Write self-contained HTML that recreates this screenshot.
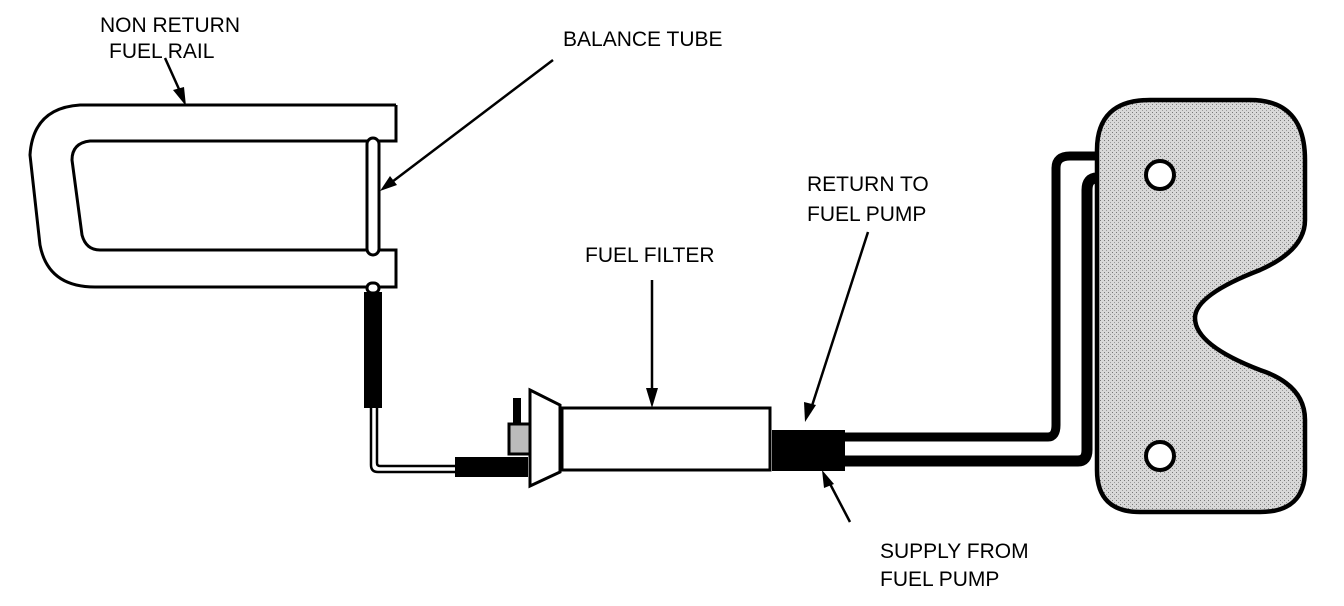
<!DOCTYPE html>
<html><head><meta charset="utf-8"><style>
html,body{margin:0;padding:0;background:#fff;}
svg{display:block}
text{font-family:"Liberation Sans",sans-serif;font-size:21px;fill:#000;}
</style></head><body>
<svg width="1344" height="606" viewBox="0 0 1344 606" xmlns="http://www.w3.org/2000/svg">
<defs>
<pattern id="st" width="4" height="4" patternUnits="userSpaceOnUse">
<rect width="4" height="4" fill="#d8d8d8"/><rect x="0" y="0" width="1" height="1" fill="#777"/><rect x="2" y="2" width="1" height="1" fill="#999"/>
</pattern>
</defs>
<g stroke="#000" fill="none" stroke-width="3">
<path d="M396,105 L80,105 Q33,108 30,155 L40,245 Q48,287 95,287 L396,287 L396,250 L380,250" fill="#fff"/>
<path d="M396,105 L396,141 L90,141 Q72,143 72,160 L82,235 Q86,250 100,250 L370,250"/>
<rect x="367" y="138" width="12" height="117" rx="6" fill="#fff"/>
<rect x="367" y="283" width="12" height="10" rx="5" fill="#fff"/>
<rect x="364" y="292" width="18" height="116" fill="#000" stroke="none"/>
<path d="M371,408 L371,465 Q371,472 378,472 L456,472" stroke-width="2.5"/>
<path d="M377,408 L377,463 Q377,466 380,466 L456,466" stroke-width="2.5"/>
<rect x="455" y="457" width="73" height="20" fill="#000" stroke="none"/>
<rect x="513" y="398" width="8" height="30" fill="#000" stroke="none"/>
<rect x="509" y="424" width="22" height="30" fill="#bbb" stroke-width="3"/>
<path d="M530,390 L560,405 L560,472 L530,486 Z" fill="#fff"/>
<rect x="562" y="408" width="208" height="62" fill="#fff"/>
<rect x="772" y="430" width="73" height="41" fill="#000" stroke="none"/>
<path d="M845,437 L1048,437 Q1056,437 1056,425 L1056,168 Q1056,156 1070,156 L1100,156" stroke-width="9"/>
<path d="M845,461 L1078,461 Q1087,461 1087,450 L1087,190 Q1087,178 1097,178 L1100,178" stroke-width="11"/>
<path d="M1097,150 Q1097,100 1150,100 L1250,100 Q1305,100 1305,160 L1305,220 Q1305,250 1260,270 Q1195,295 1195,318 Q1195,345 1260,370 Q1305,385 1305,420 L1305,470 Q1305,512 1260,512 L1140,512 Q1097,512 1097,470 Z" fill="url(#st)" stroke-width="4.5"/>
<circle cx="1160" cy="175" r="14" fill="#fff" stroke-width="4"/>
<circle cx="1160" cy="456" r="14" fill="#fff" stroke-width="4"/>
<g stroke-width="2.5">
<line x1="165" y1="58" x2="183" y2="98"/>
<line x1="553" y1="60" x2="388" y2="185"/>
<line x1="652" y1="280" x2="652" y2="395"/>
<line x1="868" y1="232" x2="810" y2="412"/>
<line x1="850" y1="522" x2="828" y2="480"/>
</g>
</g>
<g fill="#000">
<polygon points="186,106 173,90 184,87"/>
<polygon points="380,191 390,176 397,185"/>
<polygon points="652,408 646,388 658,388"/>
<polygon points="805,422 804,402 816,405"/>
<polygon points="822,470 834,484 824,488"/>
</g>
<text x="100" y="32">NON RETURN</text>
<text x="109" y="58">FUEL RAIL</text>
<text x="563" y="46">BALANCE TUBE</text>
<text x="585" y="262">FUEL FILTER</text>
<text x="807" y="191">RETURN TO</text>
<text x="807" y="221">FUEL PUMP</text>
<text x="880" y="558">SUPPLY FROM</text>
<text x="880" y="586">FUEL PUMP</text>
</svg>
</body></html>
